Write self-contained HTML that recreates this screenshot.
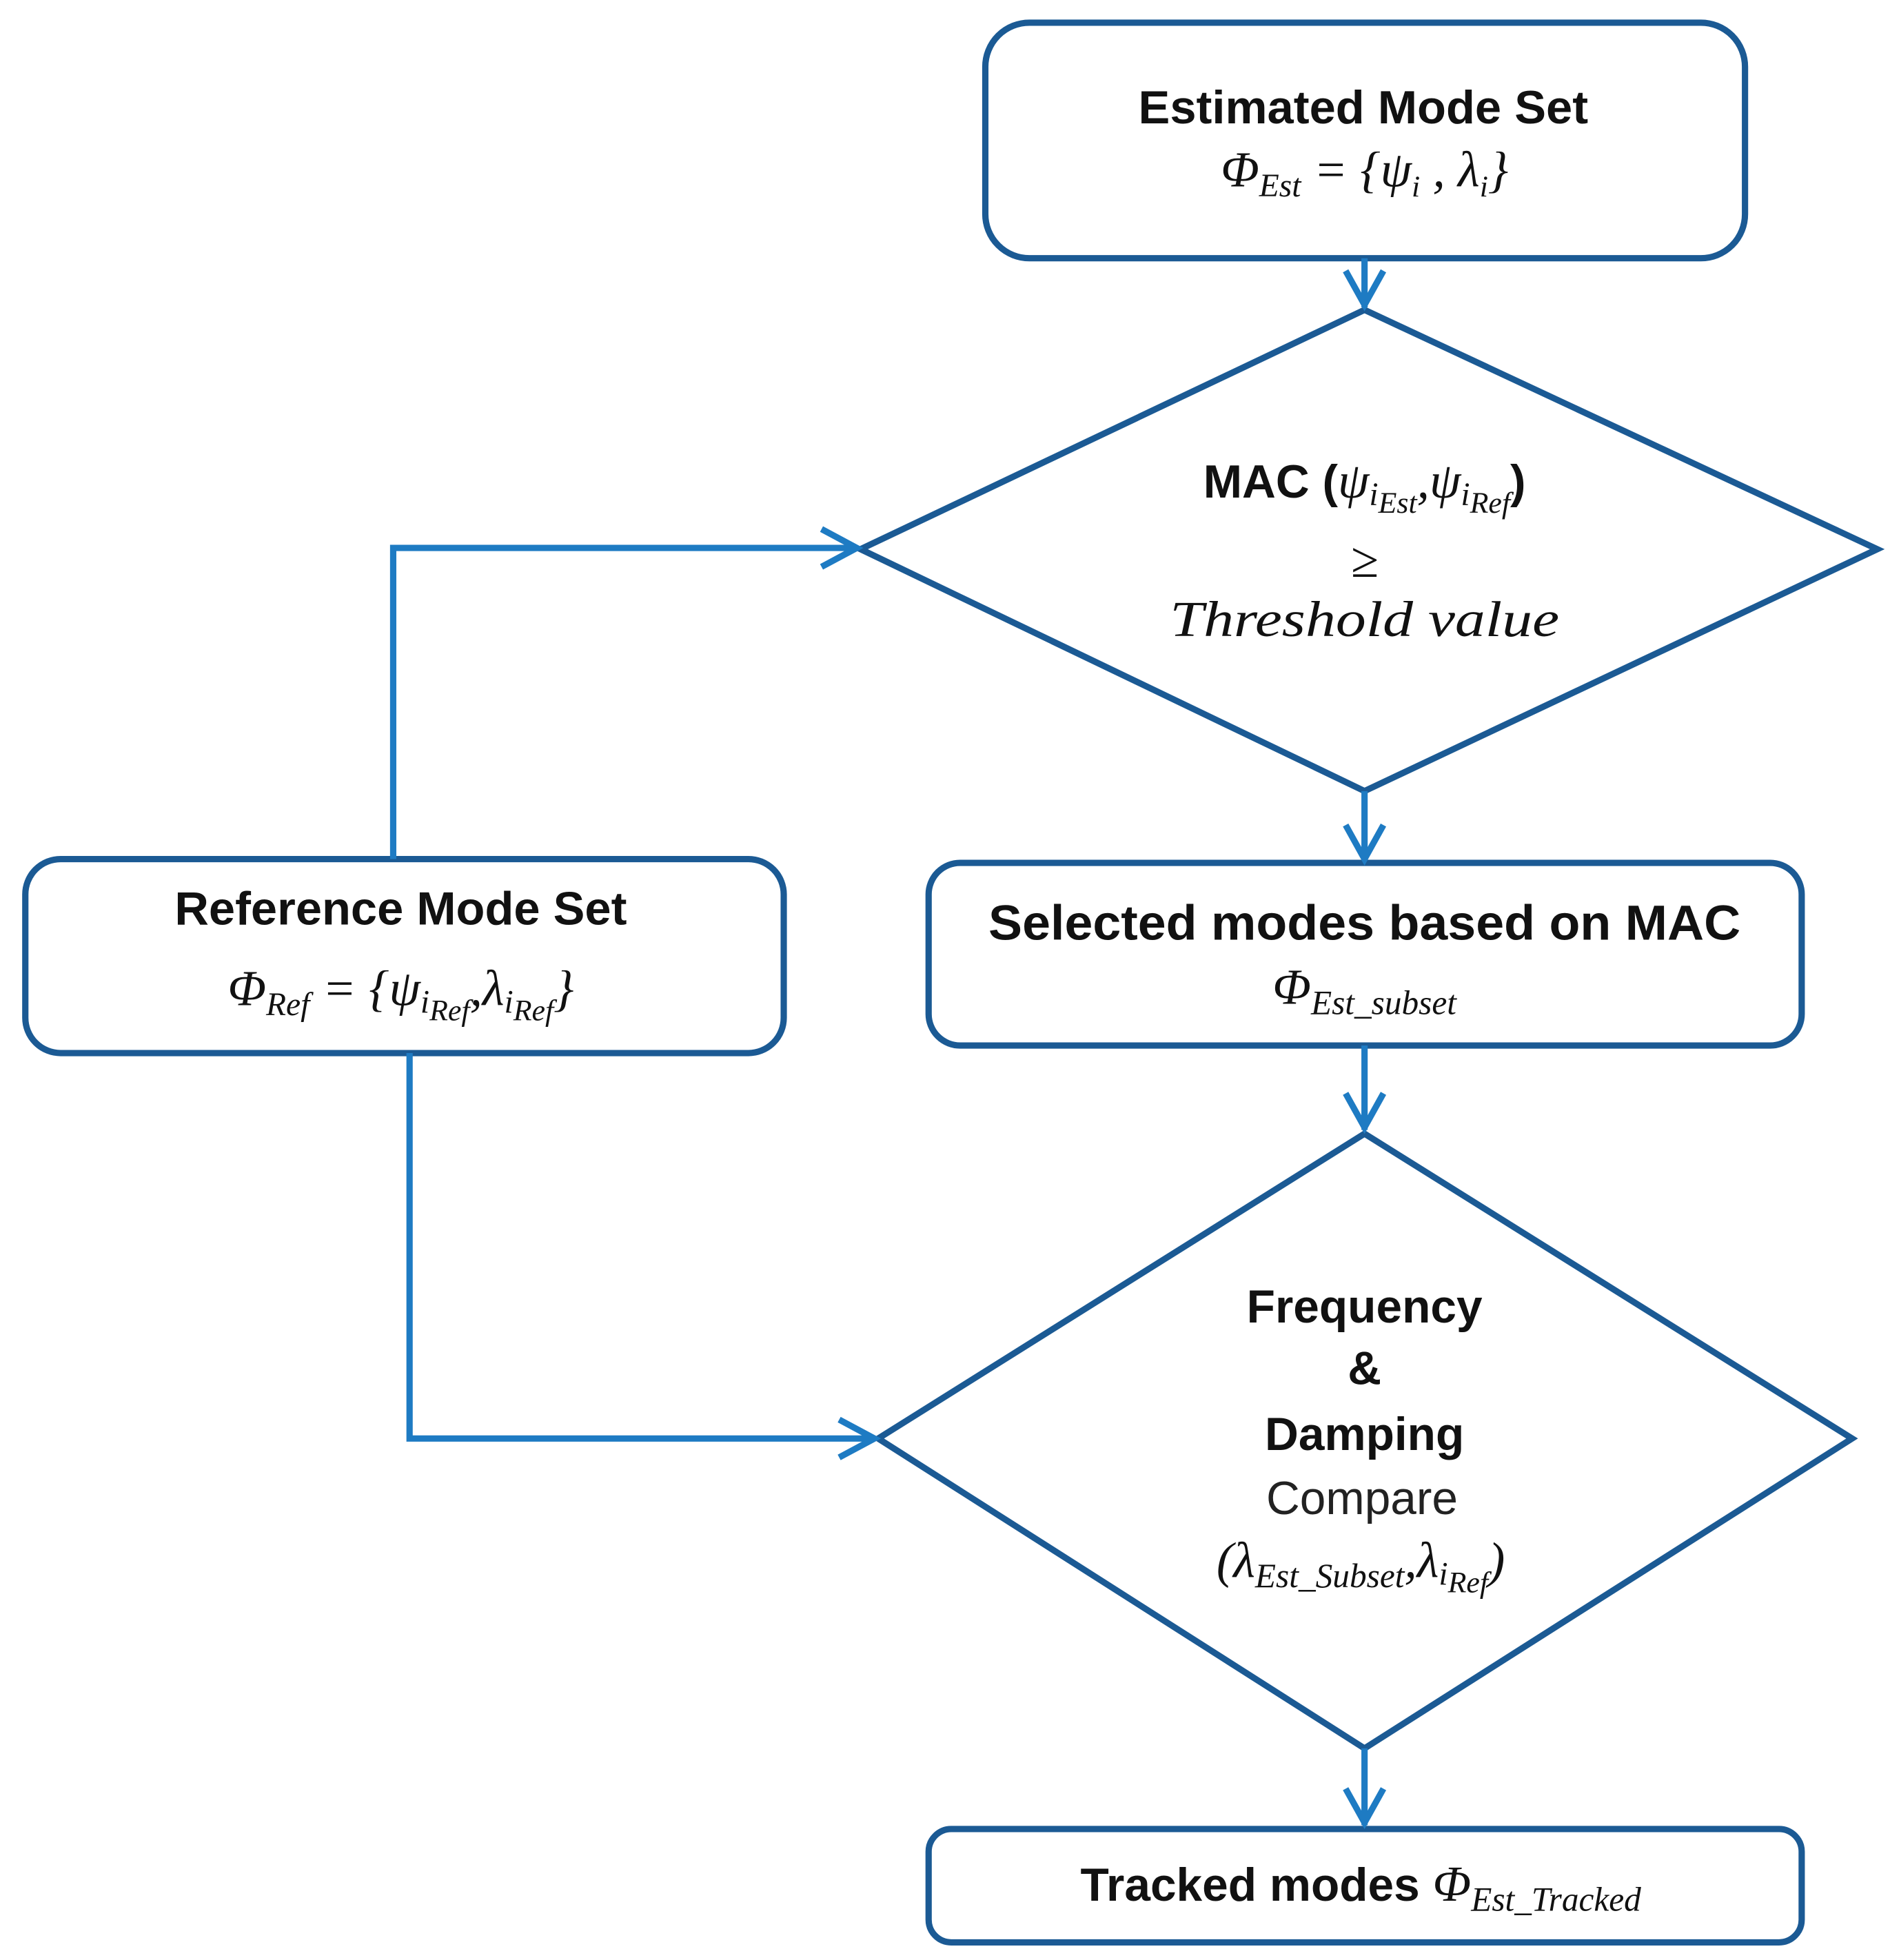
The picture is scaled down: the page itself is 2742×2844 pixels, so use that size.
<!DOCTYPE html>
<html><head><meta charset="utf-8"><style>
html,body{margin:0;padding:0;background:#fff}
svg{display:block}
.b{font-family:"Liberation Sans",sans-serif;font-weight:bold;fill:#111}
.m{font-family:"Liberation Serif",serif;font-style:italic;fill:#111}
.n{font-family:"Liberation Sans",sans-serif;fill:#222}
</style></head><body>
<svg width="2742" height="2844" viewBox="0 0 1500 1556" xmlns="http://www.w3.org/2000/svg">
<g fill="#fff" stroke="#1B5A94" stroke-width="5" stroke-linejoin="miter">
<rect x="782" y="18" width="603" height="187" rx="35"/>
<polygon points="1083,246 1490,436 1083,628 683,436"/>
<rect x="737" y="685" width="693" height="145" rx="25"/>
<polygon points="1083,900 1470,1142 1083,1388 697,1142"/>
<rect x="737" y="1452" width="693" height="90" rx="18"/>
<rect x="20" y="682" width="602" height="154" rx="28"/>
</g>
<g fill="none" stroke="#1E7BC3" stroke-width="5" stroke-linejoin="miter">
<path d="M1083,205 V244 M1068,215 L1083,242 L1098,215"/>
<path d="M1083,628 V683 M1068,655 L1083,682 L1098,655"/>
<path d="M1083,830 V897 M1068,868 L1083,895 L1098,868"/>
<path d="M1083,1388 V1449 M1068,1420 L1083,1447 L1098,1420"/>
<path d="M312,682 V435 H680 M652,420 L680,435 L652,450"/>
<path d="M325,836 V1142 H694 M666,1127 L694,1142 L666,1157"/>
</g>
<text class="b" x="1082" y="98" font-size="37" text-anchor="middle" textLength="357" lengthAdjust="spacingAndGlyphs">Estimated Mode Set</text>
<text class="m" x="1083" y="148" font-size="40" text-anchor="middle">Φ<tspan font-size="26" dy="8">Est</tspan><tspan dy="-8"> = {ψ</tspan><tspan font-size="24" dy="8">i</tspan><tspan dy="-8"> , λ</tspan><tspan font-size="24" dy="8">i</tspan><tspan dy="-8">}</tspan></text>
<text x="1083" y="395" font-size="40" text-anchor="middle"><tspan class="b" font-size="37">MAC (</tspan><tspan class="m">ψ</tspan><tspan class="m" font-size="26" dy="6">i</tspan><tspan class="m" font-size="24" dy="6">Est</tspan><tspan class="m" dy="-12">,ψ</tspan><tspan class="m" font-size="26" dy="6">i</tspan><tspan class="m" font-size="24" dy="6">Ref</tspan><tspan class="b" font-size="37" dy="-12">)</tspan></text>
<text class="m" x="1083" y="458" font-size="40" text-anchor="middle">≥</text>
<text class="m" x="1083" y="505" font-size="40" text-anchor="middle" textLength="309" lengthAdjust="spacingAndGlyphs">Threshold value</text>
<text class="b" x="1083" y="746" font-size="39" text-anchor="middle" textLength="597" lengthAdjust="spacingAndGlyphs">Selected modes based on MAC</text>
<text class="m" x="1083" y="797" font-size="40" text-anchor="middle">Φ<tspan font-size="27" dy="8">Est_subset</tspan></text>
<text class="b" x="1083" y="1050" font-size="37" text-anchor="middle">Frequency</text>
<text class="b" x="1083" y="1099" font-size="37" text-anchor="middle">&amp;</text>
<text class="b" x="1083" y="1151" font-size="37" text-anchor="middle">Damping</text>
<text class="n" x="1081" y="1202" font-size="37" text-anchor="middle">Compare</text>
<text class="m" x="1080" y="1252" font-size="40" text-anchor="middle">(λ<tspan font-size="27" dy="8">Est_Subset</tspan><tspan dy="-8">,λ</tspan><tspan font-size="26" dy="6">i</tspan><tspan font-size="24" dy="6">Ref</tspan><tspan dy="-12">)</tspan></text>
<text x="1080" y="1509" font-size="37" text-anchor="middle"><tspan class="b">Tracked modes </tspan><tspan class="m" font-size="40">Φ</tspan><tspan class="m" font-size="27" dy="8">Est_Tracked</tspan></text>
<text class="b" x="318" y="734" font-size="37" text-anchor="middle" textLength="359" lengthAdjust="spacingAndGlyphs">Reference Mode Set</text>
<text class="m" x="318" y="798" font-size="40" text-anchor="middle">Φ<tspan font-size="26" dy="8">Ref</tspan><tspan dy="-8"> = {ψ</tspan><tspan font-size="26" dy="6">i</tspan><tspan font-size="24" dy="6">Ref</tspan><tspan dy="-12">,λ</tspan><tspan font-size="26" dy="6">i</tspan><tspan font-size="24" dy="6">Ref</tspan><tspan dy="-12">}</tspan></text>
</svg>
</body></html>
